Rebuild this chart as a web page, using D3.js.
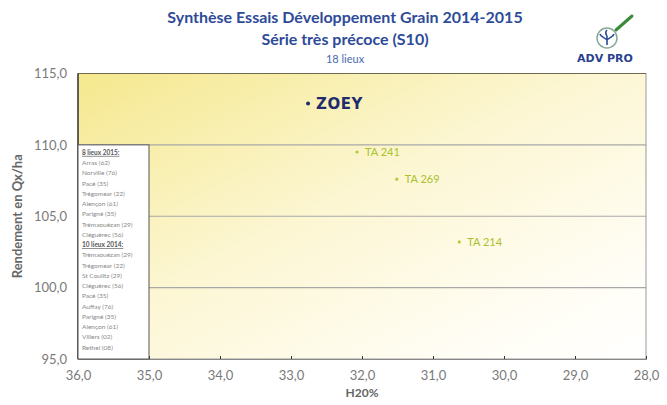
<!DOCTYPE html>
<html><head><meta charset="utf-8">
<script src="https://cdn.jsdelivr.net/npm/d3@7"></script>
<style>body{margin:0;background:#fff}svg{display:block}</style>
</head><body>
<script>
// ---- data ----
const varieties = ["ZOEY", "TA 241", "TA 269", "TA 214"];
const humidity = [32.76, 32.07, 31.51, 30.63];
const yieldQx = [112.9, 109.5, 107.6, 103.2];
const xTicks = [36, 35, 34, 33, 32, 31, 30, 29, 28];
const yTicks = [95, 100, 105, 110, 115];
const gridValues = [100, 105, 110];
const sites2015 = ["Arras (62)", "Norville (76)", "Pacé (35)", "Trégomear (22)", "Alençon (61)", "Parigné (35)", "Trémaouézan (29)", "Cléguérec (56)"];
const sites2014 = ["Trémaouézan (29)", "Trégomear (22)", "St Coulitz (29)", "Cléguérec (56)", "Pacé (35)", "Auffay (76)", "Parigné (35)", "Alençon (61)", "Villers (02)", "Rethel (08)"];
const titles = ["Synthèse Essais Développement Grain 2014-2015", "Série très précoce (S10)", "18 lieux"];

const W = 667, H = 405;
const m = {l: 78, r: 21, t: 73.5, b: 46};
const svg = d3.select("body").append("svg").attr("width", W).attr("height", H);
const font = "Lato, 'Open Sans', sans-serif";

const x = d3.scaleLinear().domain([36, 28]).range([m.l, W - m.r]);
const y = d3.scaleLinear().domain([95, 115]).range([H - m.b, m.t]);

// gradient background
const defs = svg.append("defs");
const g = defs.append("linearGradient").attr("id", "bg").attr("x1", 0).attr("y1", 0).attr("x2", 1).attr("y2", 1);
g.append("stop").attr("offset", 0).attr("stop-color", "#f5e88e");
g.append("stop").attr("offset", 0.45).attr("stop-color", "#fcf6d2");
g.append("stop").attr("offset", 0.8).attr("stop-color", "#fffdf3");
g.append("stop").attr("offset", 1).attr("stop-color", "#ffffff");

svg.append("rect").attr("x", x(36)).attr("y", y(115)).attr("width", x(28) - x(36)).attr("height", y(95) - y(115))
  .attr("fill", "url(#bg)");

// grid
svg.selectAll(".grid").data(gridValues).join("line")
  .attr("x1", x(36)).attr("x2", x(28)).attr("y1", d => y(d)).attr("y2", d => y(d))
  .attr("stroke", "#a8a8a8").attr("stroke-width", 1.2);

// border
svg.append("rect").attr("x", x(36)).attr("y", y(115)).attr("width", x(28) - x(36)).attr("height", y(95) - y(115))
  .attr("fill", "none").attr("stroke", "#9a9a9a").attr("stroke-width", 1);
svg.append("line").attr("x1", x(36)).attr("x2", x(28)).attr("y1", y(115)).attr("y2", y(115)).attr("stroke", "#6e6a50").attr("stroke-width", 1.2);
svg.append("line").attr("x1", x(36)).attr("x2", x(36)).attr("y1", y(115)).attr("y2", y(95)).attr("stroke", "#333").attr("stroke-width", 1.4);

// x axis
const xa = svg.append("g").attr("transform", `translate(0,${y(95)})`)
  .call(d3.axisBottom(x).tickValues(xTicks).tickSize(-3).tickPadding(12).tickFormat(d => d3.format(".1f")(d).replace(".", ",")));
xa.select(".domain").attr("stroke", "#888");
xa.selectAll(".tick line").attr("stroke", "#333");
xa.selectAll("text").attr("font-family", font).attr("font-size", 13).attr("fill", "#7a7a7a");

// y axis
const ya = svg.append("g").attr("transform", `translate(${x(36)},0)`)
  .call(d3.axisLeft(y).tickValues(yTicks).tickSize(0).tickPadding(11).tickFormat(d => d3.format(".1f")(d).replace(".", ",")));
ya.select(".domain").remove();
ya.selectAll("text").attr("font-family", font).attr("font-size", 13).attr("fill", "#7a7a7a");

// axis titles
svg.append("text").attr("x", (x(36) + x(28)) / 2).attr("y", 397).attr("text-anchor", "middle")
  .attr("font-family", font).attr("font-weight", "bold").attr("font-size", 12).attr("fill", "#666").text("H20%");
svg.append("text").attr("transform", `translate(22,${(y(95) + y(115)) / 2}) rotate(-90)`).attr("text-anchor", "middle")
  .attr("font-family", font).attr("font-weight", "bold").attr("font-size", 13).attr("fill", "#666").text("Rendement en Qx/ha");

// legend box
svg.append("rect").attr("x", x(36)).attr("y", y(110)).attr("width", x(35) - x(36)).attr("height", y(95) - y(110))
  .attr("fill", "#fff").attr("stroke", "#555").attr("stroke-width", 1);
const lines = [{t: "8 lieux 2015:", h: true}, ...sites2015.map(t => ({t})), {t: "10 lieux 2014:", h: true}, ...sites2014.map(t => ({t}))];
svg.selectAll(".leg").data(lines).join("text")
  .attr("x", x(36) + 4).attr("y", (d, i) => y(110) + 10 + i * 10.25)
  .attr("font-family", font).attr("font-size", 6.5)
  .attr("font-weight", d => d.h ? "bold" : "normal")
  .attr("text-decoration", d => d.h ? "underline" : null)
  .attr("fill", d => d.h ? "#555" : "#888").text(d => d.t);

// points
const pts = varieties.map((v, i) => ({name: v, x: humidity[i], y: yieldQx[i]}));
svg.selectAll(".pt").data(pts).join("circle")
  .attr("cx", d => x(d.x)).attr("cy", d => y(d.y)).attr("r", d => d.name === "ZOEY" ? 2 : 1.6)
  .attr("fill", d => d.name === "ZOEY" ? "#1f2d6e" : "#b5cc3a");
svg.selectAll(".lbl").data(pts).join("text")
  .attr("x", d => x(d.x) + 8).attr("y", d => y(d.y) + (d.name === "ZOEY" ? 6 : 4))
  .attr("font-family", d => d.name === "ZOEY" ? "'DejaVu Sans', sans-serif" : font)
  .attr("font-weight", d => d.name === "ZOEY" ? "bold" : "normal")
  .attr("font-size", d => d.name === "ZOEY" ? 15 : 11)
  .attr("letter-spacing", d => d.name === "ZOEY" ? 0.5 : 0)
  .attr("fill", d => d.name === "ZOEY" ? "#1f2d6e" : "#a9c12c").text(d => d.name);

// titles
svg.append("text").attr("x", 345).attr("y", 23).attr("text-anchor", "middle").attr("font-family", font)
  .attr("font-weight", "bold").attr("font-size", 16).attr("fill", "#2e4b98").text(titles[0]);
svg.append("text").attr("x", 345).attr("y", 45).attr("text-anchor", "middle").attr("font-family", font)
  .attr("font-weight", "bold").attr("font-size", 16).attr("fill", "#2e4b98").text(titles[1]);
svg.append("text").attr("x", 345).attr("y", 63).attr("text-anchor", "middle").attr("font-family", font)
  .attr("font-size", 11).attr("fill", "#4a6ab0").text(titles[2]);

// logo
const logo = svg.append("g").attr("transform", "translate(607,38)");
logo.append("line").attr("x1", 9).attr("y1", -8).attr("x2", 25).attr("y2", -22).attr("stroke", "#3a8a3a").attr("stroke-width", 3).attr("stroke-linecap", "round");
logo.append("circle").attr("cx", 0).attr("cy", 0).attr("r", 10).attr("fill", "#fff").attr("stroke", "#8aa89a").attr("stroke-width", 1.5);
logo.append("path").attr("d", "M0,7 L0,-2 M0,2 C-3,-1 -6,-1 -7,-4 M0,2 C3,-1 6,-1 7,-4 M0,-2 C-2,-5 -1,-7 0,-8")
  .attr("fill", "none").attr("stroke", "#2a4a9a").attr("stroke-width", 1.6);
logo.append("text").attr("x", -2).attr("y", 24).attr("text-anchor", "middle").attr("font-family", "'DejaVu Sans', sans-serif")
  .attr("font-weight", "bold").attr("font-size", 11).attr("fill", "#2a3f8f").text("ADV PRO");
</script>
</body></html>
